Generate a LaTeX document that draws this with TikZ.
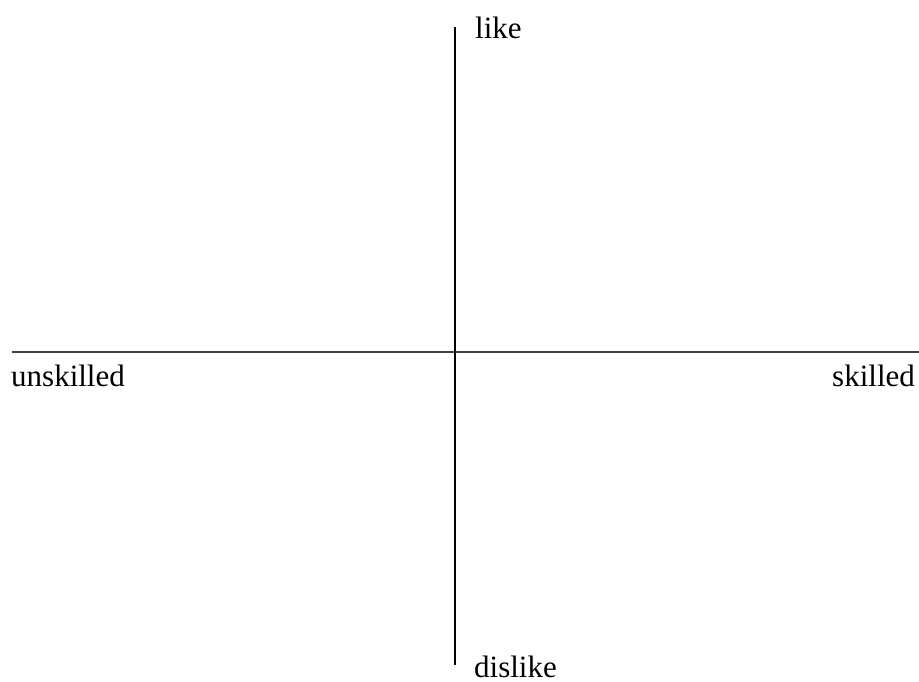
\documentclass[tikz,border=0pt]{standalone}
\usepackage{fontspec}
\setmainfont{Liberation Serif}
\begin{document}
\begin{tikzpicture}[x=1pt,y=-1pt,
  lbl/.style={anchor=base west,inner sep=0pt,font=\fontsize{31}{35}\selectfont},
  axis/.style={line width=1.3pt,black!75}]
\useasboundingbox (0,0) rectangle (919,682);
\coordinate (top) at (455,27);
\coordinate (bot) at (455,665);
\coordinate (left) at (12,352);
\coordinate (right) at (919,352);
\draw[axis] (left) -- (right);
\draw[axis,black] (top) -- (bot);
\node[lbl] (like) at (475,39) {like};
\node[lbl] (dislike) at (474,677) {dislike};
\node[lbl] (unskilled) at (11,386) {unskilled};
\node[lbl] (skilled) at (832,386) {skilled};
\end{tikzpicture}
\end{document}
